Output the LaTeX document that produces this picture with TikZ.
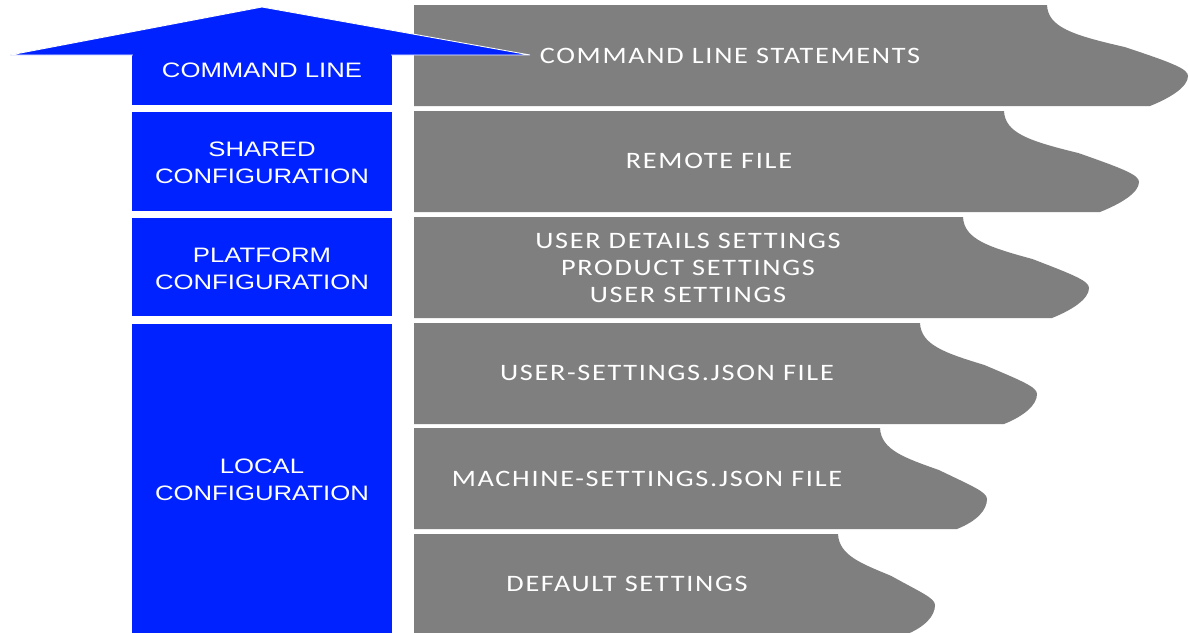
\documentclass[tikz,border=0pt]{standalone}
\usepackage{fontspec}
\setmainfont{Liberation Sans}
\newfontfamily\rowfont[LetterSpace=6]{Carlito}
\definecolor{layerblue}{RGB}{0,34,255}
\definecolor{sourcegray}{RGB}{127,127,127}
\tikzset{
  layer/.style={fill=layerblue},
  source/.style={fill=sourcegray},
  layertext/.style={text=white, align=center, xscale=1.23,
    font=\fontsize{11.9}{15.4}\selectfont},
  sourcetext/.style={text=white, align=center, xscale=1.2,
    font=\rowfont\fontsize{13.4}{15.4}\selectfont}
}

\begin{document}
\begin{tikzpicture}[x=0.02cm, y=-0.02cm]
\clip (0,0) rectangle (1189,632);
\fill[white] (0,0) rectangle (1189,632);
% gray source rows with wavy right edge
\foreach \ytop/\xa/\xm/\xb in {5/1047/1188/1150, 111/1004/1139/1100,
  217/963/1089/1052, 323/920/1037/1004, 428/880/987/957, 534/838/935/905}
\fill[source] (414,\ytop) -- (\xa,\ytop)
  .. controls (\xa+1,\ytop+22) and (\xa+25,\ytop+30) .. ({\xa+0.55*(\xm-\xa)},\ytop+42)
  .. controls (\xm-15,\ytop+58) and (\xm,\ytop+64) .. (\xm,\ytop+71)
  .. controls (\xm,\ytop+82) and (\xb+20,\ytop+93) .. (\xb,\ytop+101)
  -- (414,\ytop+101) -- cycle;
% blue layers
\fill[layer] (132,55) rectangle (392,105);
\fill[layer] (132,112) rectangle (392,211);
\fill[layer] (132,218) rectangle (392,316);
\fill[layer] (132,324) rectangle (392,640);
\filldraw[layer, draw=white, line width=0.5pt] (10,55) -- (262,7) -- (530,55) -- cycle;
\fill[layer] (133,54) rectangle (391,60);
% layer names
\node[layertext] (cmd) at (262,70) {COMMAND LINE};
\node[layertext] (shared) at (262,162.5) {SHARED\\CONFIGURATION};
\node[layertext] (platform) at (262,268.5) {PLATFORM\\CONFIGURATION};
\node[layertext] (local) at (262,479.5) {LOCAL\\CONFIGURATION};
% sources
\node[sourcetext] (stmts) at (730,56) {COMMAND LINE STATEMENTS};
\node[sourcetext] (remote) at (709,161) {REMOTE FILE};
\node[sourcetext] (userdetails) at (688,268) {USER DETAILS SETTINGS\\PRODUCT SETTINGS\\USER SETTINGS};
\node[sourcetext] (userjson) at (667,373) {USER-SETTINGS.JSON FILE};
\node[sourcetext] (machinejson) at (647,479) {MACHINE-SETTINGS.JSON FILE};
\node[sourcetext] (defaults) at (627,584) {DEFAULT SETTINGS};
\end{tikzpicture}
\end{document}
